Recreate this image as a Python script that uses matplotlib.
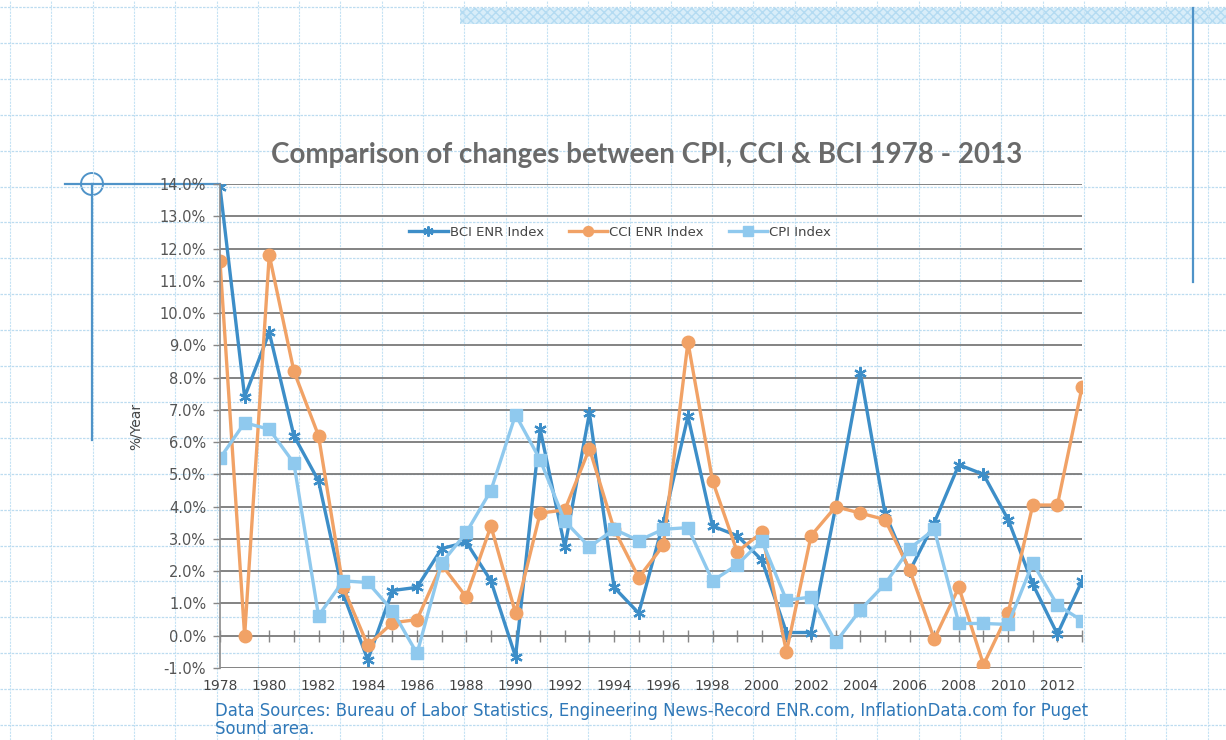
import matplotlib
matplotlib.use("Agg")
import matplotlib.pyplot as plt
from matplotlib.patches import Arc, Rectangle
import numpy as np

# Years covered by the chart.
YEARS = list(range(1978, 2014))

# Building cost index (ENR), %/year.
BCI = [13.9, 7.4, 9.4, 6.2, 4.8, 1.3, -0.75, 1.4, 1.5, 2.7, 2.9, 1.7,
       -0.65, 6.4, 2.75, 6.9, 1.5, 0.7, 3.5, 6.8, 3.4, 3.1, 2.35, 0.1,
       0.1, 4.0, 8.15, 3.8, 2.0, 3.5, 5.3, 5.0, 3.6, 1.6, 0.05, 1.7]
# Construction cost index (ENR), %/year.
CCI = [11.6, 0.0, 11.8, 8.2, 6.2, 1.5, -0.3, 0.4, 0.5, 2.2, 1.2, 3.4,
       0.7, 3.8, 3.9, 5.8, 3.3, 1.8, 2.8, 9.1, 4.8, 2.6, 3.2, -0.5,
       3.1, 4.0, 3.8, 3.6, 2.05, -0.1, 1.5, -0.9, 0.7, 4.05, 4.05, 7.7]
# Consumer price index, %/year.
CPI = [5.5, 6.6, 6.4, 5.35, 0.62, 1.7, 1.65, 0.78, -0.55, 2.25, 3.2, 4.5,
       6.85, 5.45, 3.55, 2.75, 3.3, 2.95, 3.3, 3.35, 1.7, 2.2, 2.95, 1.1,
       1.2, -0.2, 0.8, 1.6, 2.7, 3.3, 0.38, 0.38, 0.35, 2.25, 0.95, 0.47]

LABELS = ["BCI ENR Index", "CCI ENR Index", "CPI Index"]
TITLE = "Comparison of changes between CPI, CCI & BCI 1978 - 2013"
SOURCE = ("Data Sources: Bureau of Labor Statistics, Engineering News-Record ENR.com, "
          "InflationData.com for Puget\nSound area.")

W, H = 1226, 740


def draw_paper(fig):
    # Background axes in pixel units for the graph paper of the scanned page.
    bg = fig.add_axes([0, 0, 1, 1], zorder=-10)
    bg.set_xlim(0, W)
    bg.set_ylim(H, 0)
    bg.axis("off")
    for x in np.arange(10, W, 41.3):
        bg.axvline(x, color="#c4e2f4", lw=0.8, ls=(0, (2, 1)))
    for y in np.arange(7, H, 35.9):
        bg.axhline(y, color="#bcdcf0", lw=0.9, ls=(0, (2, 1)))
    # Hatched band at the top and pen marks.
    bg.add_patch(Rectangle((460, 8), W - 460, 16, facecolor="#d8edf9",
                           edgecolor="#b4dbf2", lw=0, hatch="xxxx"))
    bg.plot([1193, 1193], [8, 282], color="#4f93c8", lw=1.6)
    bg.plot([92, 92], [184, 440], color="#4f93c8", lw=1.6)
    bg.plot([65, 220], [184, 184], color="#4f93c8", lw=1.6)
    bg.add_patch(Arc((92, 184), 22, 22, theta1=-90, theta2=270,
                     color="#4f93c8", lw=1.4))


def main():
    fig = plt.figure(figsize=(W / 100, H / 100), dpi=100)
    fig.patch.set_facecolor("white")
    draw_paper(fig)

    ax = fig.add_axes([220 / W, 1 - 668 / H, (1082 - 220) / W, (668 - 184) / H])
    ax.patch.set_alpha(0)

    ax.plot(YEARS, BCI, color="#3d8ec8", lw=2.4, marker=(6, 2, 0), ms=9,
            mew=1.6, label=LABELS[0])
    ax.plot(YEARS, CCI, color="#f1a266", lw=2.4, marker="o", ms=9,
            label=LABELS[1])
    ax.plot(YEARS, CPI, color="#8fc9ee", lw=2.4, marker="s", ms=9,
            label=LABELS[2])

    ax.set_xlim(1978, 2013)
    ax.set_ylim(-1, 14)
    ax.set_yticks(range(-1, 15))
    ax.set_yticklabels([f"{v:.1f}%" for v in range(-1, 15)])
    ax.set_xticks(range(1978, 2013, 2))
    ax.tick_params(axis="x", length=0, pad=8, labelsize=10, labelcolor="#444444")
    ax.tick_params(axis="y", length=5, width=1, color="#888888", labelsize=10.5,
                   labelcolor="#555555", pad=5)
    ax.grid(axis="y", color="#7a7a7a", lw=1.3)
    ax.set_axisbelow(True)
    for side in ["top", "right", "bottom"]:
        ax.spines[side].set_visible(False)
    ax.spines["left"].set_color("#8a8a8a")
    ax.spines["left"].set_linewidth(1.2)

    # Horizontal axis crosses at 0 with a tick for every year.
    sec = ax.secondary_xaxis(1 / 15)
    sec.set_xticks(YEARS)
    sec.set_xticklabels([])
    sec.tick_params(direction="inout", length=8, width=1, color="#888888")
    sec.spines["bottom"].set_visible(False)

    ax.set_ylabel("%/Year", fontsize=10, color="#444444", labelpad=12)

    ax.legend(loc="center", bbox_to_anchor=(0.464, 0.90), ncol=3, frameon=False,
              fontsize=9.5, handlelength=2.9, handletextpad=0.15,
              columnspacing=1.9, markerscale=0.8, labelcolor="#444444")

    fig.text(647 / W, 1 - 155 / H, TITLE, ha="center", va="center",
             fontsize=20, fontweight="bold", color="#6a6a6a", family="Lato")
    fig.text(215 / W, 1 - 702 / H, SOURCE, ha="left", va="top",
             fontsize=11.9, color="#2f78b8", linespacing=1.0)

    fig.savefig("out.png", dpi=100)


if __name__ == "__main__":
    main()
